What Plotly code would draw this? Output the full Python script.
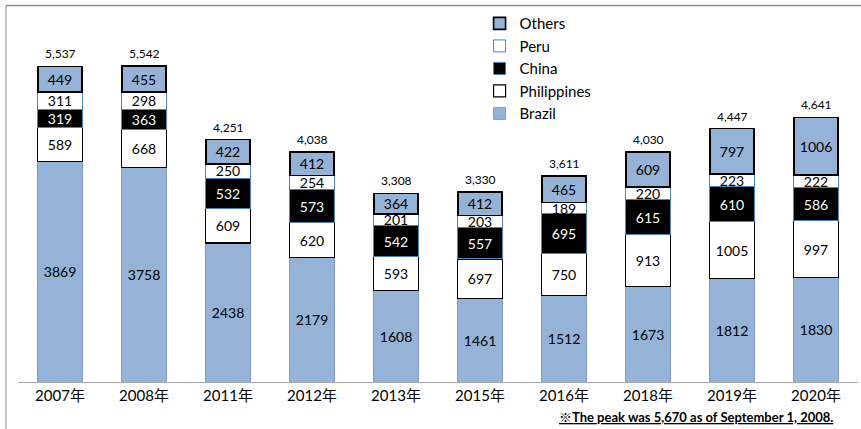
import plotly.graph_objects as go

years = ["2007年", "2008年", "2011年", "2012年", "2013年", "2015年", "2016年", "2018年", "2019年", "2020年"]
brazil = [3869, 3758, 2438, 2179, 1608, 1461, 1512, 1673, 1812, 1830]
philippines = [589, 668, 609, 620, 593, 697, 750, 913, 1005, 997]
china = [319, 363, 532, 573, 542, 557, 695, 615, 610, 586]
peru = [311, 298, 250, 254, 201, 203, 189, 220, 223, 222]
others = [449, 455, 422, 412, 364, 412, 465, 609, 797, 1006]
note = "※The peak was 5,670 as of September 1, 2008."

totals = [a + b + c + d + e for a, b, c, d, e in zip(brazil, philippines, china, peru, others)]

FONT = "Lato, 'Noto Sans CJK JP', sans-serif"
BLUE = "#95B3D7"
EDGE = "#4F81BD"

series = [
    ("Brazil", brazil, BLUE, "#7F9FCF", 1, "black"),
    ("Philippines", philippines, "white", "black", 1.2, "black"),
    ("China", china, "black", EDGE, 1, "white"),
    ("Peru", peru, "white", EDGE, 1, "black"),
    ("Others", others, BLUE, "black", 1.6, "black"),
]

fig = go.Figure()
for name, vals, fill, line, lw, tc in series:
    fig.add_trace(go.Bar(
        name=name, x=years, y=vals, legendgroup=name,
        marker=dict(color=fill, line=dict(color=line, width=lw)),
        text=[str(v) for v in vals], textposition="inside",
        insidetextanchor="middle", textangle=0,
        textfont=dict(family=FONT, size=14, color=tc),
    ))

annotations = [dict(
    x=yr, y=t, xref="x", yref="y", text=f"{t:,}", showarrow=False,
    yanchor="bottom", yshift=3, font=dict(family=FONT, size=12, color="black"),
) for yr, t in zip(years, totals)]

annotations.append(dict(
    text=f"<b><u>{note}</u></b>", xref="paper", yref="paper",
    x=(835 - 18) / 840, y=(382 - 427) / 342, xanchor="right", yanchor="bottom",
    showarrow=False, font=dict(family=FONT, size=13, color="black"),
))

fig.update_layout(
    width=861, height=429,
    barmode="stack", bargap=0.47,
    paper_bgcolor="white", plot_bgcolor="white",
    margin=dict(l=18, r=3, t=40, b=47),
    font=dict(family=FONT, size=14, color="black"),
    uniformtext=dict(minsize=14, mode="show"),
    showlegend=True,
    legend=dict(
        x=0.5495, y=1.096, xanchor="left", yanchor="top",
        traceorder="reversed", tracegroupgap=3,
        font=dict(family=FONT, size=15, color="black"),
        bgcolor="rgba(0,0,0,0)",
    ),
    xaxis=dict(
        showline=True, linecolor="#a6a6a6", linewidth=1,
        ticks="", tickfont=dict(family=FONT, size=15, color="black"),
        showgrid=False, automargin=False,
    ),
    yaxis=dict(range=[0, 6000], visible=False, showgrid=False),
    annotations=annotations,
    shapes=[
        dict(type="line", xref="paper", yref="paper",
             x0=-12 / 840, x1=1.01, y0=(382.5 - 6) / 342, y1=(382.5 - 6) / 342,
             line=dict(color="#8c8c8c", width=1.5)),
        dict(type="line", xref="paper", yref="paper",
             x0=-12 / 840, x1=-12 / 840, y0=(382.5 - 6) / 342, y1=-0.2,
             line=dict(color="#8c8c8c", width=1)),
    ],
)

fig.write_html(
    "out.html",
    config={"displayModeBar": False},
    post_script="document.body.style.margin='0';document.body.style.padding='0';",
)
